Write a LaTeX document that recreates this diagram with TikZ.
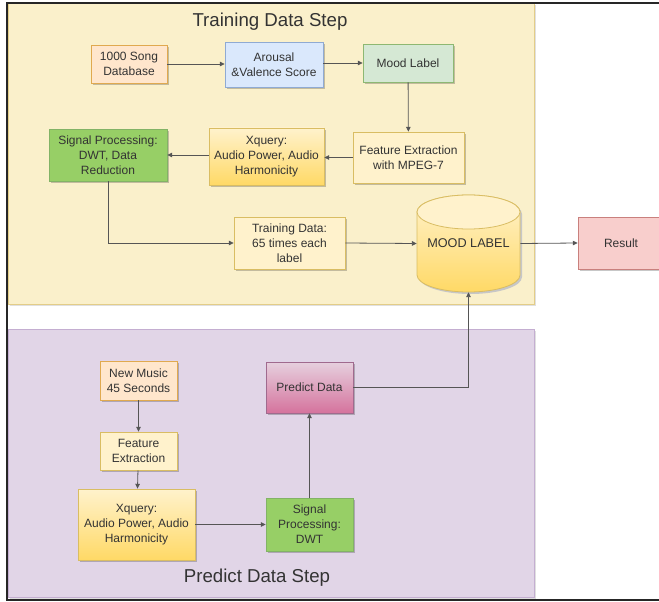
\documentclass[tikz,border=0pt]{standalone}
\usepackage{fontspec}
\setmainfont{Liberation Sans}
\usetikzlibrary{arrows.meta,shadows}
\definecolor{txt}{HTML}{333333}
\definecolor{lnk}{HTML}{555555}
\definecolor{orfill}{HTML}{FFE6CC}\definecolor{ordraw}{HTML}{E0A94F}
\definecolor{blfill}{HTML}{DAE8FC}\definecolor{bldraw}{HTML}{8FAAD3}
\definecolor{gnfill}{HTML}{D5E8D4}\definecolor{gndraw}{HTML}{8DB872}
\definecolor{ylfill}{HTML}{FFF2CC}\definecolor{yldraw}{HTML}{D9BD63}
\definecolor{ylhi}{HTML}{FFD966}
\definecolor{sgfill}{HTML}{97CF66}\definecolor{sgdraw}{HTML}{82B366}
\definecolor{rdfill}{HTML}{F8CECC}\definecolor{rddraw}{HTML}{C9807D}
\definecolor{pklo}{HTML}{D5739D}\definecolor{pkhi}{HTML}{E6D0DE}\definecolor{pkdraw}{HTML}{A06A8E}
\definecolor{trpanel}{HTML}{FAF0CB}\definecolor{trdraw}{HTML}{E3CD88}
\definecolor{prpanel}{HTML}{E1D5E7}\definecolor{prdraw}{HTML}{C4AED1}
\tikzset{
  box/.style={rectangle, draw, line width=0.6pt, inner sep=0pt, align=center, text=txt,
    font=\fontsize{9}{11.25}\selectfont,
    drop shadow={shadow xshift=1.2pt, shadow yshift=-1.2pt, opacity=0.22, fill=black}},
  orbox/.style={box, fill=orfill, draw=ordraw},
  blbox/.style={box, fill=blfill, draw=bldraw},
  gnbox/.style={box, fill=gnfill, draw=gndraw},
  ylbox/.style={box, fill=ylfill, draw=yldraw},
  ylgrad/.style={box, top color=ylfill, bottom color=ylhi, draw=yldraw},
  sgbox/.style={box, fill=sgfill, draw=sgdraw},
  rdbox/.style={box, fill=rdfill, draw=rddraw},
  pkbox/.style={box, top color=pkhi, bottom color=pklo, draw=pkdraw},
  link/.style={draw=lnk, line width=0.6pt, -{Triangle[length=3.6pt,width=3.4pt]}},
  paneltitle/.style={text=txt, font=\fontsize{14}{16}\selectfont, inner sep=0pt}
}
\begin{document}
\begin{tikzpicture}[x=0.75pt,y=-0.75pt]
\useasboundingbox (0,0) rectangle (659,602);
% panels
\fill[black!12] (9.5,5) rectangle (536,306);
\draw[fill=trpanel, draw=trdraw, line width=0.6pt] (8,3) rectangle (534,304);
\fill[black!12] (9.5,331) rectangle (536,599);
\draw[fill=prpanel, draw=prdraw, line width=0.6pt] (8,329) rectangle (534,597);
% outer frame
\draw[black!85, line width=1.5pt] (659,3) -- (7,3) -- (7,600) -- (659,600);
% titles
\node[paneltitle] (ttrain) at (270,22) {Training Data Step};
\node[paneltitle] (tpred) at (257,578) {Predict Data Step};
% training nodes
\node[orbox, minimum width=57pt, minimum height=28.5pt] (song) at (129,64) {1000 Song\\Database};
\node[blbox, minimum width=73.5pt, minimum height=33.75pt] (arousal) at (274,64.5) {Arousal\\\&Valence Score};
\node[gnbox, minimum width=67.5pt, minimum height=28.5pt] (mood) at (408,63) {Mood Label};
\node[ylbox, minimum width=83.25pt, minimum height=38.25pt] (fext) at (408.5,157.5) {Feature Extraction\\with MPEG-7};
\node[ylgrad, minimum width=86.25pt, minimum height=42.75pt] (xq1) at (266.5,156.5) {Xquery:\\Audio Power, Audio\\Harmonicity};
\node[sgbox, minimum width=88.5pt, minimum height=39pt] (sp1) at (108,155) {Signal Processing:\\DWT, Data\\Reduction};
\node[ylbox, minimum width=83.25pt, minimum height=39pt] (train) at (289.5,243) {Training Data:\\65 times each\\label};
\node[rdbox, minimum width=64.5pt, minimum height=39pt] (result) at (621,243) {Result};
% cylinder
\fill[black!22] (419,214) -- (419,277) arc[start angle=180, end angle=360, x radius=38.625pt, y radius=12.75pt]
  -- (522,214) arc[start angle=0, end angle=180, x radius=38.625pt, y radius=12.75pt] -- cycle;
\draw[top color=ylfill, bottom color=ylhi, draw=yldraw, line width=0.6pt]
  (417,212) -- (417,275) arc[start angle=180, end angle=360, x radius=38.625pt, y radius=12.75pt]
  -- (520,212) arc[start angle=0, end angle=180, x radius=38.625pt, y radius=12.75pt] -- cycle;
\draw[fill=ylfill, draw=yldraw, line width=0.6pt] (468.5,212) ellipse [x radius=38.625pt, y radius=12.75pt];
\node[minimum width=77.25pt, minimum height=72.75pt, inner sep=0pt, text=txt, font=\fontsize{9.5}{11}\selectfont] (db) at (468.5,243.5) {MOOD LABEL};
% predict nodes
\node[orbox, minimum width=57.75pt, minimum height=29.25pt] (newm) at (138.5,380.5) {New Music\\45 Seconds};
\node[ylbox, minimum width=57.75pt, minimum height=28.5pt] (fext2) at (138.5,451) {Feature\\Extraction};
\node[ylgrad, minimum width=87.75pt, minimum height=53.25pt] (xq2) at (136.5,524.5) {Xquery:\\Audio Power, Audio\\Harmonicity};
\node[sgbox, minimum width=65.25pt, minimum height=39.75pt] (sp2) at (309.5,524.5) {Signal\\Processing:\\DWT};
\node[pkbox, minimum width=65.25pt, minimum height=38.25pt] (pred) at (309.5,387.5) {Predict Data};
% connectors
\draw[link] (song.east) -- (song.east -| arousal.west);
\draw[link] (arousal.east |- mood.west) -- (mood.west);
\draw[link] (mood) -- (fext);
\draw[link] (fext.west) -- (fext.west -| xq1.east);
\draw[link] (xq1.west |- sp1.east) -- (sp1.east);
\draw[link] (sp1.south) |- (train.west);
\draw[link] (train.east) -- (db.west);
\draw[link] (db.east) -- (result.west);
\draw[link] (newm) -- (fext2);
\draw[link] (fext2) -- (xq2);
\draw[link] (xq2) -- (sp2);
\draw[link] (sp2) -- (pred);
\draw[link] (pred.east) -| (db.south);
\end{tikzpicture}
\end{document}
